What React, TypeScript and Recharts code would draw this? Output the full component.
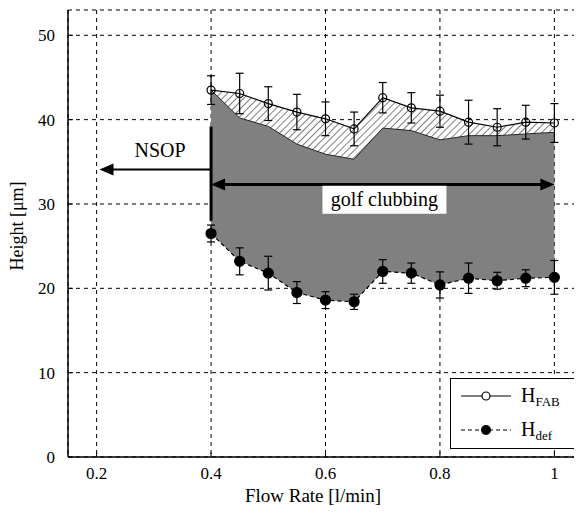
import React from 'react';
import {
  ComposedChart,
  Area,
  Line,
  XAxis,
  YAxis,
  CartesianGrid,
  ErrorBar,
  ReferenceLine,
  ReferenceDot,
} from 'recharts';

// flow rate [l/min]
const flowRate = [0.4, 0.45, 0.5, 0.55, 0.6, 0.65, 0.7, 0.75, 0.8, 0.85, 0.9, 0.95, 1.0];
// H_FAB and its error
const hFab = [43.5, 43.1, 41.9, 40.9, 40.1, 38.9, 42.6, 41.4, 41.0, 39.7, 39.1, 39.7, 39.6];
const hFabErr = [1.7, 2.4, 2.0, 2.1, 2.0, 2.0, 1.8, 1.8, 1.9, 2.6, 2.2, 2.0, 2.3];
// upper edge of the grey (golf clubbing) region
const hClub = [43.5, 40.2, 39.2, 37.1, 35.9, 35.3, 39.0, 38.7, 37.6, 38.1, 38.1, 38.3, 38.5];
// H_def and its error
const hDef = [26.5, 23.2, 21.8, 19.5, 18.6, 18.4, 22.0, 21.8, 20.4, 21.2, 20.9, 21.2, 21.3];
const hDefErr = [1.0, 1.6, 2.0, 1.3, 1.0, 0.9, 1.4, 1.2, 1.55, 1.8, 1.0, 1.0, 2.0];

const xTicks = [0.2, 0.4, 0.6, 0.8, 1];
const yTicks = [0, 10, 20, 30, 40, 50];

const data = flowRate.map((x, i) => ({
  x,
  fab: hFab[i],
  fabErr: hFabErr[i],
  club: hClub[i],
  def: hDef[i],
  defErr: hDefErr[i],
  gray: [hDef[i], hClub[i]],
  hatch: [hClub[i], hFab[i]],
}));

const FONT = '"Liberation Serif", "DejaVu Serif", serif';
const tickStyle = { fontFamily: FONT, fontSize: 17, fill: '#000' };

const arrowHead = (dir: 'left' | 'right') => (props: any) => {
  const { cx, cy } = props;
  const s = dir === 'left' ? 1 : -1;
  return (
    <polygon
      points={`${cx},${cy} ${cx + s * 14},${cy - 6} ${cx + s * 14},${cy + 6}`}
      fill="#000"
    />
  );
};

const textShape = (txt: string, boxed: boolean) => (props: any) => {
  const { cx, cy } = props;
  return (
    <g>
      {boxed && <rect x={cx - 62} y={cy - 14} width={124} height={28} fill="#fff" />}
      <text x={cx} y={cy + 6} textAnchor="middle" fontFamily={FONT} fontSize={20} fill="#000">
        {txt}
      </text>
    </g>
  );
};

const App: React.FC = () => {
  return (
    <div style={{ position: 'relative', width: 574, height: 499, overflow: 'hidden' }}>
      <ComposedChart
        width={600}
        height={507}
        data={data}
        margin={{ top: 2, right: 25, left: 0, bottom: 8 }}
      >
        <defs>
          <pattern
            id="hatch"
            patternUnits="userSpaceOnUse"
            width={5}
            height={5}
            patternTransform="rotate(45)"
          >
            <rect width={5} height={5} fill="#fff" />
            <line x1={0} y1={0} x2={0} y2={5} stroke="#000" strokeWidth={1} />
          </pattern>
        </defs>
        <CartesianGrid stroke="#000" strokeDasharray="4 4" strokeWidth={1} />
        <XAxis
          dataKey="x"
          type="number"
          domain={[0.15, 1.05]}
          ticks={xTicks}
          allowDataOverflow
          height={50}
          tickSize={-5}
          tickMargin={15}
          tick={tickStyle}
          stroke="#000"
          axisLine={{ stroke: '#000', strokeWidth: 1.5 }}
          tickLine={{ stroke: '#000' }}
          tickFormatter={(v: number) => (v === 1 ? '1' : String(v))}
          label={{
            content: () => (
              <text x={305} y={494} textAnchor="middle" fontFamily={FONT} fontSize={19} fill="#000">
                Flow Rate [l/min]
              </text>
            ),
          }}
        />
        <XAxis
          xAxisId="top"
          orientation="top"
          dataKey="x"
          type="number"
          domain={[0.15, 1.05]}
          ticks={xTicks}
          allowDataOverflow
          height={0}
          tickSize={-5}
          tickFormatter={() => ''}
          axisLine={{ stroke: '#000', strokeWidth: 1.5 }}
          tickLine={{ stroke: '#000' }}
        />
        <YAxis
          type="number"
          domain={[0, 53]}
          ticks={yTicks}
          allowDataOverflow
          width={60}
          tickSize={-5}
          tickMargin={18}
          tick={tickStyle}
          axisLine={{ stroke: '#000', strokeWidth: 1.5 }}
          tickLine={{ stroke: '#000' }}
          label={{
            content: () => (
              <text
                x={15}
                y={218}
                transform="rotate(-90 15 218)"
                textAnchor="middle"
                fontFamily={FONT}
                fontSize={18}
                fill="#000"
              >
                Height [μm]
              </text>
            ),
          }}
        />

        <Area
          type="linear"
          dataKey="gray"
          fill="#808080"
          fillOpacity={1}
          stroke="none"
          isAnimationActive={false}
        />
        <Area
          type="linear"
          dataKey="hatch"
          fill="url(#hatch)"
          fillOpacity={1}
          stroke="none"
          isAnimationActive={false}
        />
        <Line
          type="linear"
          dataKey="club"
          stroke="#222"
          strokeWidth={1}
          dot={false}
          isAnimationActive={false}
        />

        <ReferenceLine
          segment={[{ x: 0.4, y: 28 }, { x: 0.4, y: 39.2 }]}
          stroke="#000"
          strokeWidth={3}
        />
        <ReferenceLine
          segment={[{ x: 0.4, y: 34.1 }, { x: 0.215, y: 34.1 }]}
          stroke="#000"
          strokeWidth={2}
        />
        <ReferenceDot x={0.205} y={34.1} shape={arrowHead('left')} />
        <ReferenceLine
          segment={[{ x: 0.41, y: 32.3 }, { x: 0.99, y: 32.3 }]}
          stroke="#000"
          strokeWidth={3}
        />
        <ReferenceDot x={0.4} y={32.3} shape={arrowHead('left')} />
        <ReferenceDot x={1.0} y={32.3} shape={arrowHead('right')} />
        <ReferenceDot x={0.703} y={30.5} shape={textShape('golf clubbing', true)} />
        <ReferenceDot x={0.311} y={36.3} shape={textShape('NSOP', false)} />

        <Line
          type="linear"
          dataKey="fab"
          stroke="#000"
          strokeWidth={1.2}
          dot={{ r: 4, fill: 'none', stroke: '#000', strokeWidth: 1.2 }}
          isAnimationActive={false}
        >
          <ErrorBar dataKey="fabErr" width={4} stroke="#000" strokeWidth={1.2} />
        </Line>
        <Line
          type="linear"
          dataKey="def"
          stroke="#000"
          strokeWidth={1.2}
          strokeDasharray="4 3"
          dot={{ r: 5, fill: '#000', stroke: '#000', strokeDasharray: '0' }}
          isAnimationActive={false}
        >
          <ErrorBar dataKey="defErr" width={4} stroke="#000" strokeWidth={1.2} />
        </Line>
      </ComposedChart>

      <div
        style={{
          position: 'absolute',
          left: 442,
          top: 370,
          width: 127,
          height: 71,
          border: '1px solid #000',
          background: '#fff',
          boxSizing: 'border-box',
        }}
      >
        <svg width={125} height={69}>
          <line x1={10} x2={60} y1={17} y2={17} stroke="#000" strokeWidth={1.2} />
          <circle cx={35} cy={17} r={4} fill="#fff" stroke="#000" strokeWidth={1.2} />
          <text x={70} y={23} fontFamily={FONT} fontSize={20} fill="#000">
            H
            <tspan fontSize={13} dy={4}>
              FAB
            </tspan>
          </text>
          <line
            x1={10}
            x2={60}
            y1={51}
            y2={51}
            stroke="#000"
            strokeWidth={1.2}
            strokeDasharray="4 3"
          />
          <circle cx={35} cy={51} r={5} fill="#000" />
          <text x={70} y={57} fontFamily={FONT} fontSize={20} fill="#000">
            H
            <tspan fontSize={13} dy={4}>
              def
            </tspan>
          </text>
        </svg>
      </div>
    </div>
  );
};

export default App;
